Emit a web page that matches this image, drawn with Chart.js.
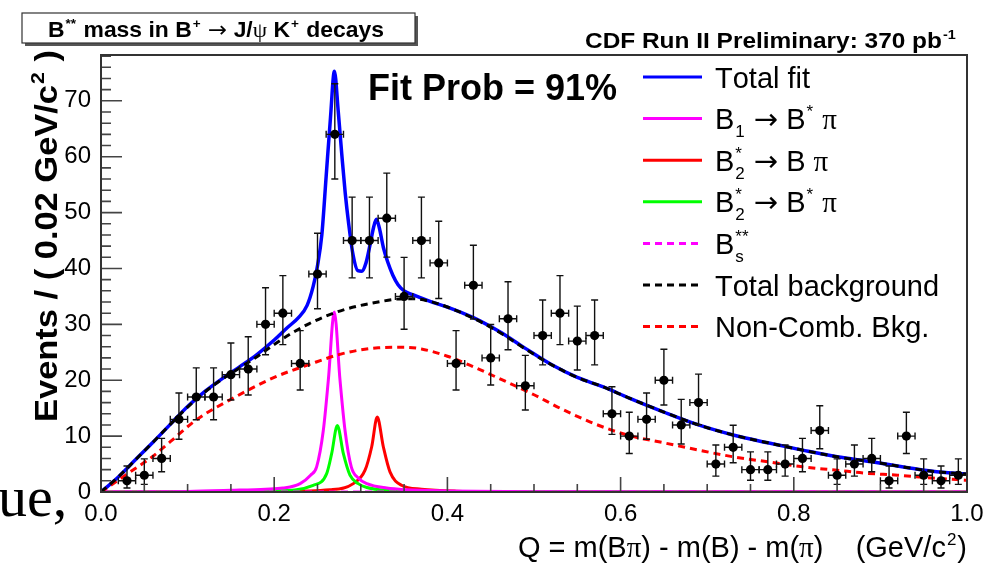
<!DOCTYPE html>
<html>
<head>
<meta charset="utf-8">
<script src="https://cdn.jsdelivr.net/npm/chart.js@4.4.1/dist/chart.umd.min.js"></script>
<style>
  html, body { margin: 0; padding: 0; background: #fff; }
  #wrap { width: 984px; height: 567px; position: relative; }
</style>
</head>
<body>
<div id="wrap"><canvas id="grafica" width="984" height="567"></canvas></div>
<script>
// Data points: bin centres (GeV/c^2) and events per 0.02 GeV/c^2
const binCenters = [0.03, 0.05, 0.07, 0.09, 0.11, 0.13, 0.15, 0.17, 0.19, 0.21,
                    0.23, 0.25, 0.27, 0.29, 0.31, 0.33, 0.35, 0.37, 0.39, 0.41,
                    0.43, 0.45, 0.47, 0.49, 0.51, 0.53, 0.55, 0.57, 0.59, 0.61,
                    0.63, 0.65, 0.67, 0.69, 0.71, 0.73, 0.75, 0.77, 0.79, 0.81,
                    0.83, 0.85, 0.87, 0.89, 0.91, 0.93, 0.95, 0.97, 0.99];
const eventCounts = [2, 3, 6, 13, 17, 17, 21, 22, 30, 32,
                     23, 39, 64, 45, 45, 49, 35, 45, 41, 23,
                     37, 24, 31, 19, 28, 32, 27, 28, 14, 10,
                     13, 20, 12, 16, 5, 8, 4, 4, 5, 6,
                     11, 3, 5, 6, 2, 10, 3, 2, 3];
const binHalfWidth = 0.01;

// Fit components
const totalFitX = [0, 0.02, 0.04, 0.06, 0.08, 0.10, 0.12, 0.14, 0.16, 0.18, 0.20, 0.215, 0.228, 0.238, 0.245,
                   0.25, 0.255, 0.26, 0.265, 0.2695, 0.274, 0.278, 0.282, 0.286, 0.291, 0.2965, 0.301, 0.306,
                   0.311, 0.315, 0.318, 0.3215, 0.326, 0.331, 0.337, 0.343, 0.35, 0.36, 0.38, 0.40, 0.43, 0.46,
                   0.49, 0.52, 0.55, 0.58, 0.61, 0.65, 0.69, 0.73, 0.77, 0.81, 0.85, 0.89, 0.93, 0.96, 1.0];
const totalFitY = [0, 2.7, 5.8, 8.9, 12.1, 15.3, 18.0, 20.3, 22.4, 24.6, 27.2, 29.4, 31.2, 33.4, 36.8,
                   40.5, 46, 56.5, 67, 75.3, 68, 60.5, 53.5, 48, 42.5, 39.6, 39.5, 41,
                   44.5, 47.5, 48.8, 47.2, 43.8, 41.2, 38.8, 37.1, 36, 35.3, 34.1, 33.1, 31.2, 28.7,
                   25.7, 22.8, 20.5, 18.8, 16.8, 14.3, 12.0, 10.2, 8.8, 7.5, 6.3, 5.4, 4.4, 3.7, 3.2];

const b1X = [0, 0.10, 0.15, 0.19, 0.21, 0.23, 0.242, 0.249, 0.2567, 0.2625, 0.2694, 0.276, 0.2818, 0.289, 0.297, 0.307, 0.33, 0.353, 0.40, 0.50, 1.0];
const b1Y = [0, 0.1, 0.3, 0.5, 0.7, 1.5, 3.0, 4.5, 11, 20, 32.2, 20, 11, 4.5, 2.5, 1.5, 0.7, 0.4, 0.2, 0.05, 0];

const b2BpiX = [0, 0.20, 0.2644, 0.2914, 0.3049, 0.3126, 0.319, 0.326, 0.3337, 0.347, 0.37, 0.41, 0.50, 1.0];
const b2BpiY = [0, 0.1, 0.4, 1.5, 3.9, 8.1, 13.4, 8.1, 3.6, 1.2, 0.5, 0.15, 0, 0];

const b2BstarX = [0, 0.20, 0.245, 0.2606, 0.2664, 0.2729, 0.2798, 0.2875, 0.297, 0.307, 0.33, 0.40, 1.0];
const b2BstarY = [0, 0.2, 1.2, 3.3, 6.9, 11.9, 6.9, 3.0, 1.5, 0.8, 0.3, 0.05, 0];

const bsX = [0, 1.0];
const bsY = [0, 0];

const totalBkgX = [0, 0.02, 0.04, 0.06, 0.08, 0.10, 0.12, 0.14, 0.16, 0.18, 0.20, 0.22, 0.24, 0.26, 0.28, 0.30,
                   0.32, 0.34, 0.36, 0.38, 0.40, 0.43, 0.46, 0.49, 0.52, 0.55, 0.58, 0.61, 0.65, 0.69, 0.73,
                   0.77, 0.81, 0.85, 0.89, 0.93, 0.96, 1.0];
const totalBkgY = [0, 2.7, 5.8, 8.9, 12.1, 15.2, 17.9, 20.2, 22.2, 24.2, 26.4, 28.4, 30.1, 31.5, 32.6, 33.4,
                   34.0, 34.5, 34.6, 34.1, 33.1, 31.1, 28.6, 25.6, 22.8, 20.5, 18.8, 16.8, 14.3, 12.0, 10.2,
                   8.8, 7.5, 6.3, 5.4, 4.4, 3.7, 3.2];

const nonCombX = [0, 0.03, 0.06, 0.08, 0.11, 0.155, 0.20, 0.24, 0.28, 0.32, 0.35, 0.37, 0.40, 0.43, 0.46,
                  0.50, 0.53, 0.57, 0.61, 0.65, 0.69, 0.73, 0.77, 0.81, 0.85, 0.88, 0.92, 0.96, 1.0];
const nonCombY = [0, 3.2, 6.4, 9.0, 12.9, 17.0, 20.5, 22.8, 24.8, 25.8, 25.9, 25.6, 24.3, 22.4, 20.3,
                  17.4, 15.0, 12.2, 10.1, 8.8, 7.5, 6.3, 5.4, 4.5, 3.9, 3.4, 3.0, 2.5, 2.1];

// Axis ranges and tick labels
const xTickLabels = ['0.0', '0.2', '0.4', '0.6', '0.8', '1.0'];
const yTickLabels = ['0', '10', '20', '30', '40', '50', '60', '70'];
const yMax = 78.2;

// Texts (strings, or {sup, sub} pieces)
const titleParts = ['B', { sup: '**' }, ' mass in B', { sup: '+' }, ' \u2192 J/\u03c8 K', { sup: '+' }, ' decays'];
const cdfParts = ['CDF Run II Preliminary: 370 pb', { sup: '-1' }];
const fitProbText = 'Fit Prob = 91%';
const yTitleParts = ['Events / ( 0.02 GeV/c', { sup: '2' }, ' )'];
const xTitleParts = ['Q = m(B\u03c0) - m(B) - m(\u03c0)    (GeV/c', { sup: '2' }, ')'];
const legendLabels = [
  ['Total fit'],
  ['B', { sub: '1' }, ' \u2192 B', { sup: '*' }, ' \u03c0'],
  ['B', { sup: '*', sub: '2' }, ' \u2192 B \u03c0'],
  ['B', { sup: '*', sub: '2' }, ' \u2192 B', { sup: '*' }, ' \u03c0'],
  ['B', { sup: '**', sub: 's' }],
  ['Total background'],
  ['Non-Comb. Bkg.']
];
const legendColors = ['#0000ff', '#ff00ff', '#ff0000', '#00ff00', '#ff00ff', '#000000', '#ff0000'];
const legendDashed = [false, false, false, false, true, true, true];

const FONT = '"Liberation Sans", Arial, Helvetica, sans-serif';
const GREEK_FONT = '"Liberation Serif", "Times New Roman", serif';
const ARROW_FONT = '"DejaVu Sans", sans-serif';

// Build {x, y} pairs for a curve
function curve(xs, ys) {
  return xs.map((x, i) => ({ x: x, y: ys[i] }));
}

// Poisson-style asymmetric errors (Gehrels approximation)
function errLow(n) {
  if (n <= 0) return 0;
  return n * Math.pow(1 - 1 / (9 * n) - 1 / (3 * Math.sqrt(n)), 3);
}
function errHigh(n) {
  return n + Math.sqrt(n + 0.75) + 1;
}

// Plain string with greek letters and arrows in symbol-like fonts
function drawChunk(ctx, str, x, y, size, weight, measureOnly) {
  let cx = x;
  for (const ch of str) {
    let fam = FONT;
    let w = weight;
    if (ch === '\u03c0' || ch === '\u03c8') { fam = GREEK_FONT; w = 'normal'; }
    if (ch === '\u2192') { fam = ARROW_FONT; w = 'normal'; }
    ctx.font = w + ' ' + size + 'px ' + fam;
    if (!measureOnly) ctx.fillText(ch, cx, y);
    cx += ctx.measureText(ch).width;
  }
  return cx - x;
}

// Text with superscripts / subscripts
function drawRich(ctx, parts, x, y, size, weight, measureOnly) {
  let cx = x;
  ctx.textAlign = 'left';
  ctx.textBaseline = 'alphabetic';
  parts.forEach(p => {
    if (typeof p === 'string') {
      cx += drawChunk(ctx, p, cx, y, size, weight, measureOnly);
    } else {
      const s = Math.round(size * 0.6);
      let w = 0;
      if (p.sup) w = Math.max(w, drawChunk(ctx, p.sup, cx + 1, y - size * 0.42, s, weight, measureOnly) + 2);
      if (p.sub) w = Math.max(w, drawChunk(ctx, p.sub, cx + 1, y + size * 0.28, s, weight, measureOnly) + 2);
      cx += w;
    }
  });
  return cx - x;
}

// Error bars of the data points (drawn just before the markers)
function drawErrorBars(chart) {
  const ctx = chart.ctx;
  const xs = chart.scales.x;
  const ys = chart.scales.y;
  ctx.save();
  ctx.strokeStyle = '#111';
  ctx.lineWidth = 1.4;
  binCenters.forEach((c, i) => {
    const n = eventCounts[i];
    const px = xs.getPixelForValue(c);
    const py = ys.getPixelForValue(n);
    const x0 = xs.getPixelForValue(c - binHalfWidth);
    const x1 = xs.getPixelForValue(c + binHalfWidth);
    const y0 = ys.getPixelForValue(errLow(n));
    const y1 = ys.getPixelForValue(errHigh(n));
    ctx.beginPath();
    ctx.moveTo(px, y0); ctx.lineTo(px, y1);
    ctx.moveTo(px - 3.5, y0); ctx.lineTo(px + 3.5, y0);
    ctx.moveTo(px - 3.5, y1); ctx.lineTo(px + 3.5, y1);
    ctx.moveTo(x0, py); ctx.lineTo(x1, py);
    ctx.moveTo(x0, py - 3.5); ctx.lineTo(x0, py + 3.5);
    ctx.moveTo(x1, py - 3.5); ctx.lineTo(x1, py + 3.5);
    ctx.stroke();
  });
  ctx.restore();
}

// Frame, inner ticks, titles and legend
function drawDecorations(chart) {
  const ctx = chart.ctx;
  const xs = chart.scales.x;
  const ys = chart.scales.y;
  const a = chart.chartArea;
  ctx.save();

  // ticks pointing inwards
  ctx.strokeStyle = '#444';
  ctx.lineWidth = 1.6;
  ctx.beginPath();
  for (let i = 0; i <= 20; i++) {
    const px = xs.getPixelForValue(i * 0.05);
    const len = i % 4 === 0 ? 15 : 8;
    ctx.moveTo(px, a.bottom); ctx.lineTo(px, a.bottom - len);
  }
  for (let v = 0; v <= yMax; v += 2) {
    const py = ys.getPixelForValue(v);
    const len = v % 10 === 0 ? 21 : 10;
    ctx.moveTo(a.left, py); ctx.lineTo(a.left + len, py);
  }
  ctx.stroke();

  // frame
  ctx.strokeStyle = '#333';
  ctx.lineWidth = 2;
  ctx.strokeRect(a.left, a.top, a.right - a.left, a.bottom - a.top);

  // title box with shadow
  ctx.fillStyle = '#555';
  ctx.fillRect(25, 16, 393, 30);
  ctx.fillStyle = '#fff';
  ctx.fillRect(22, 13, 393, 30);
  ctx.strokeStyle = '#333';
  ctx.lineWidth = 1.2;
  ctx.strokeRect(22, 13, 393, 30);
  ctx.fillStyle = '#000';
  const tW = drawRich(ctx, titleParts, 0, 0, 22, 'bold', true);
  ctx.save();
  ctx.translate(48, 37);
  ctx.scale(336 / tW, 1);
  drawRich(ctx, titleParts, 0, 0, 22, 'bold');
  ctx.restore();

  // CDF label, right aligned
  const cdfW = drawRich(ctx, cdfParts, 0, 0, 22, 'bold', true);
  ctx.save();
  ctx.translate(957, 48);
  ctx.scale(372 / cdfW, 1);
  drawRich(ctx, cdfParts, -cdfW, 0, 22, 'bold');
  ctx.restore();

  // fit probability
  ctx.font = 'bold 36px ' + FONT;
  ctx.fillText(fitProbText, 368, 100);

  // y axis title, rotated and stretched to the reference length
  const yW = drawRich(ctx, yTitleParts, 0, 0, 31, 'bold', true);
  ctx.save();
  ctx.translate(57, 422);
  ctx.rotate(-Math.PI / 2);
  ctx.scale(372 / yW, 1);
  drawRich(ctx, yTitleParts, 0, 0, 31, 'bold');
  ctx.restore();

  // x axis title, right aligned
  const xW = drawRich(ctx, xTitleParts, 0, 0, 29, 'normal', true);
  drawRich(ctx, xTitleParts, 967 - xW, 557, 29, 'normal');

  // legend
  legendLabels.forEach((parts, i) => {
    const yc = 77 + i * 41.6;
    ctx.strokeStyle = legendColors[i];
    ctx.lineWidth = 3;
    ctx.setLineDash(legendDashed[i] ? [7, 5] : []);
    ctx.beginPath();
    ctx.moveTo(643, yc); ctx.lineTo(702, yc);
    ctx.stroke();
    ctx.setLineDash([]);
    ctx.fillStyle = '#000';
    drawRich(ctx, parts, 715, yc + 10.5, 29, 'normal');
  });

  // fragment of the surrounding slide text
  ctx.font = '58px "Liberation Serif", "Times New Roman", serif';
  ctx.fillStyle = '#000';
  ctx.fillText('ue,', -2, 516);

  ctx.restore();
}

const rootStyle = {
  id: 'rootStyle',
  beforeDatasetDraw(chart, args) {
    if (args.index === 0) drawErrorBars(chart);
  },
  afterDraw(chart) {
    drawDecorations(chart);
  }
};

// Line dataset helper
function lineSet(label, xs, ys, color, dashed, width, order) {
  return {
    label: label,
    data: curve(xs, ys),
    showLine: true,
    borderColor: color,
    backgroundColor: color,
    borderWidth: width,
    borderDash: dashed ? [7, 5] : [],
    pointRadius: 0,
    cubicInterpolationMode: 'monotone',
    fill: false,
    order: order
  };
}

const ctxGrafica = document.getElementById('grafica').getContext('2d');

const grafica = new Chart(ctxGrafica, {
  type: 'scatter',
  data: {
    datasets: [
      {
        label: 'Data',
        data: curve(binCenters, eventCounts),
        pointRadius: 4.6,
        pointBackgroundColor: '#000',
        pointBorderColor: '#000',
        pointBorderWidth: 0,
        showLine: false,
        order: 0
      },
      lineSet('Total background', totalBkgX, totalBkgY, '#000000', true, 3, 1),
      lineSet('Non-Comb. Bkg.', nonCombX, nonCombY, '#ff0000', true, 3, 2),
      lineSet('Bs**', bsX, bsY, '#ff00ff', true, 3, 3),
      lineSet('Total fit', totalFitX, totalFitY, '#0000ff', false, 3.5, 4),
      lineSet('B1 -> B* pi', b1X, b1Y, '#ff00ff', false, 3, 5),
      lineSet('B2* -> B* pi', b2BstarX, b2BstarY, '#00ff00', false, 3, 6),
      lineSet('B2* -> B pi', b2BpiX, b2BpiY, '#ff0000', false, 3, 7)
    ]
  },
  options: {
    responsive: false,
    animation: false,
    devicePixelRatio: 1,
    events: [],
    layout: { padding: { top: 55, right: 17, bottom: 0, left: 0 } },
    plugins: { legend: { display: false }, tooltip: { enabled: false } },
    scales: {
      x: {
        type: 'linear',
        min: 0,
        max: 1,
        grid: { display: false, drawTicks: false },
        border: { display: false },
        ticks: {
          stepSize: 0.2,
          autoSkip: false,
          maxRotation: 0,
          padding: 8,
          color: '#000',
          font: { family: FONT, size: 24 },
          callback: (v) => xTickLabels[Math.round(v / 0.2)]
        },
        afterFit: (s) => { s.height = 75; s.paddingLeft = 0; s.paddingRight = 0; }
      },
      y: {
        type: 'linear',
        min: 0,
        max: yMax,
        grid: { display: false, drawTicks: false },
        border: { display: false },
        ticks: {
          stepSize: 10,
          includeBounds: false,
          padding: 10,
          color: '#000',
          font: { family: FONT, size: 24 },
          callback: (v) => yTickLabels[Math.round(v / 10)]
        },
        afterFit: (s) => { s.width = 101; s.paddingTop = 0; s.paddingBottom = 0; }
      }
    }
  },
  plugins: [rootStyle]
});
</script>
</body>
</html>
